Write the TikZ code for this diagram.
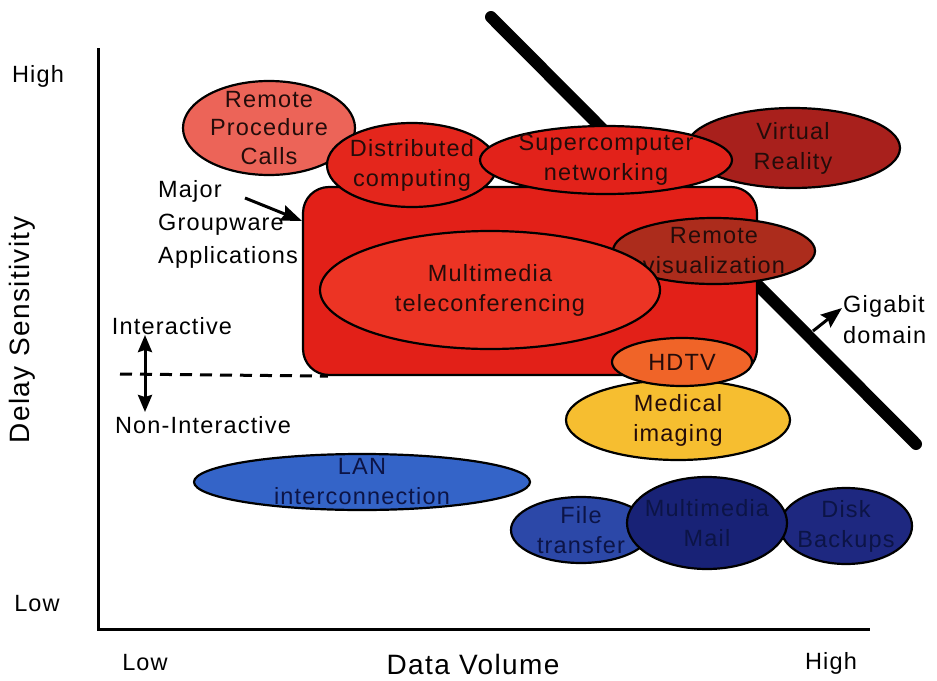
\documentclass[tikz,border=0pt]{standalone}
\usepackage{fontspec}
\setmainfont{Liberation Sans}[LetterSpace=5]
\usetikzlibrary{shapes.geometric,arrows.meta}

\definecolor{grpred}{RGB}{226,32,24}
\definecolor{telered}{RGB}{236,52,36}
\definecolor{rpcred}{RGB}{236,100,88}
\definecolor{distred}{RGB}{228,38,28}
\definecolor{superred}{RGB}{226,34,26}
\definecolor{vrred}{RGB}{168,32,28}
\definecolor{visred}{RGB}{172,44,28}
\definecolor{hdtvorange}{RGB}{240,100,40}
\definecolor{medyellow}{RGB}{246,190,48}
\definecolor{lanblue}{RGB}{52,100,200}
\definecolor{fileblue}{RGB}{44,72,168}
\definecolor{mailblue}{RGB}{24,34,118}
\definecolor{diskblue}{RGB}{30,40,128}
\definecolor{redink}{RGB}{36,12,10}
\definecolor{blueink}{RGB}{12,20,70}

\tikzset{
  blob/.style={ellipse, draw=black, line width=2.2pt, inner sep=0pt},
  ltxt/.style={font=\fontsize{23.5}{30}\selectfont, align=center, text=redink, inner sep=0pt},
  btxt/.style={ltxt, text=blueink},
  plain/.style={font=\fontsize{23.5}{33}\selectfont, inner sep=0pt},
  axlabel/.style={font=\fontsize{28}{32}\selectfont, inner sep=0pt},
  pointer/.style={line width=3pt, arrows={-Stealth[length=21pt, width=16pt, inset=3pt]}},
  updown/.style={line width=3pt, arrows={-Stealth[length=17pt, width=14pt, inset=2pt]}},
}

\begin{document}
\begin{tikzpicture}[x=1pt, y=-1pt]
\useasboundingbox (0,0) rectangle (937,680);

% gigabit boundary, behind everything
\coordinate (gbtop) at (491,17);
\coordinate (gbbot) at (916,444);
\draw[line width=12pt, line cap=round] (gbtop) -- (gbbot);

% axes
\coordinate (ytop) at (98,48);
\coordinate (origin) at (98,629);
\coordinate (xend) at (870,629);
\draw[line width=3pt] (ytop) -- (origin) -- (xend);

\node[plain] (yhigh) at (38,76) {High};
\node[plain] (ylow) at (37,604) {Low};
\node[plain] (xlow) at (145,663) {Low};
\node[plain] (xhigh) at (831,663) {High};
\node[axlabel, rotate=90] (ylabel) at (22,330) {Delay Sensitivity};
\node[axlabel] (xlabel) at (473,664) {Data Volume};

% groupware block
\node[draw=black, line width=2.2pt, fill=grpred, rounded corners=26pt,
      minimum width=454pt, minimum height=188pt] (groupware) at (530,281) {};

% high-sensitivity applications
\node[blob, fill=rpcred, minimum width=172pt, minimum height=94pt,
      label={[ltxt, font=\fontsize{23.5}{28.5}\selectfont]center:Remote\\Procedure\\Calls}] (rpc) at (269,128) {};
\node[blob, fill=vrred, minimum width=214pt, minimum height=80pt,
      label={[ltxt]center:Virtual\\Reality}] (vr) at (793,148) {};
\node[blob, fill=distred, minimum width=170pt, minimum height=84pt,
      label={[ltxt]center:Distributed\\computing}] (dist) at (412,165) {};
\node[blob, fill=superred, minimum width=252pt, minimum height=68pt,
      label={[ltxt]center:Supercomputer\\networking}] (super) at (606,160) {};
\node[blob, fill=visred, minimum width=202pt, minimum height=66pt,
      label={[ltxt]center:Remote\\visualization}] (vis) at (714,251) {};
\node[blob, fill=telered, minimum width=340pt, minimum height=118pt,
      label={[ltxt]center:Multimedia\\teleconferencing}] (tele) at (490,290) {};
\node[blob, fill=medyellow, minimum width=224pt, minimum height=80pt,
      label={[ltxt]center:Medical\\imaging}] (med) at (678,420) {};
\node[blob, fill=hdtvorange, minimum width=140pt, minimum height=48pt,
      label={[ltxt]center:HDTV}] (hdtv) at (682,362) {};

% low-sensitivity applications
\node[blob, fill=lanblue, minimum width=336pt, minimum height=56pt,
      label={[btxt]center:LAN\\interconnection}] (lan) at (362,482) {};
\node[blob, fill=fileblue, minimum width=140pt, minimum height=66pt,
      label={[btxt]center:File\\transfer}] (file) at (581,530) {};
\node[blob, fill=diskblue, minimum width=132pt, minimum height=76pt,
      label={[btxt]center:Disk\\Backups}] (disk) at (846,526) {};
\node[blob, fill=mailblue, minimum width=160pt, minimum height=92pt,
      label={[btxt]center:Multimedia\\Mail}] (mail) at (707,523) {};

% interactive / non-interactive split
\coordinate (dashl) at (120,374);
\draw[line width=3pt, dash pattern=on 12pt off 8pt] (dashl) -- ([xshift=26pt]groupware.south west);
\coordinate (iaup) at (145,335);
\coordinate (iadown) at (145,412);
\coordinate (iamid) at (145,374);
\draw[updown] (iamid) -- (iaup);
\draw[updown] (iamid) -- (iadown);
\node[plain] (inter) at (172,326) {Interactive};
\node[plain] (noninter) at (203,425) {Non-Interactive};

% callouts
\node[plain, align=left, anchor=west] (mga) at (158,224) {Major\\Groupware\\Applications};
\coordinate (mgatail) at (245,198);
\draw[pointer] (mgatail) -- ([yshift=-35pt]groupware.north west);

\node[plain, align=left, anchor=west, font=\fontsize{23.5}{31}\selectfont] (giga) at (843,320) {Gigabit\\domain};
\coordinate (gigatail) at (813,331);
\coordinate (gigahead) at (842,308);
\draw[pointer] (gigatail) -- (gigahead);
\end{tikzpicture}
\end{document}
